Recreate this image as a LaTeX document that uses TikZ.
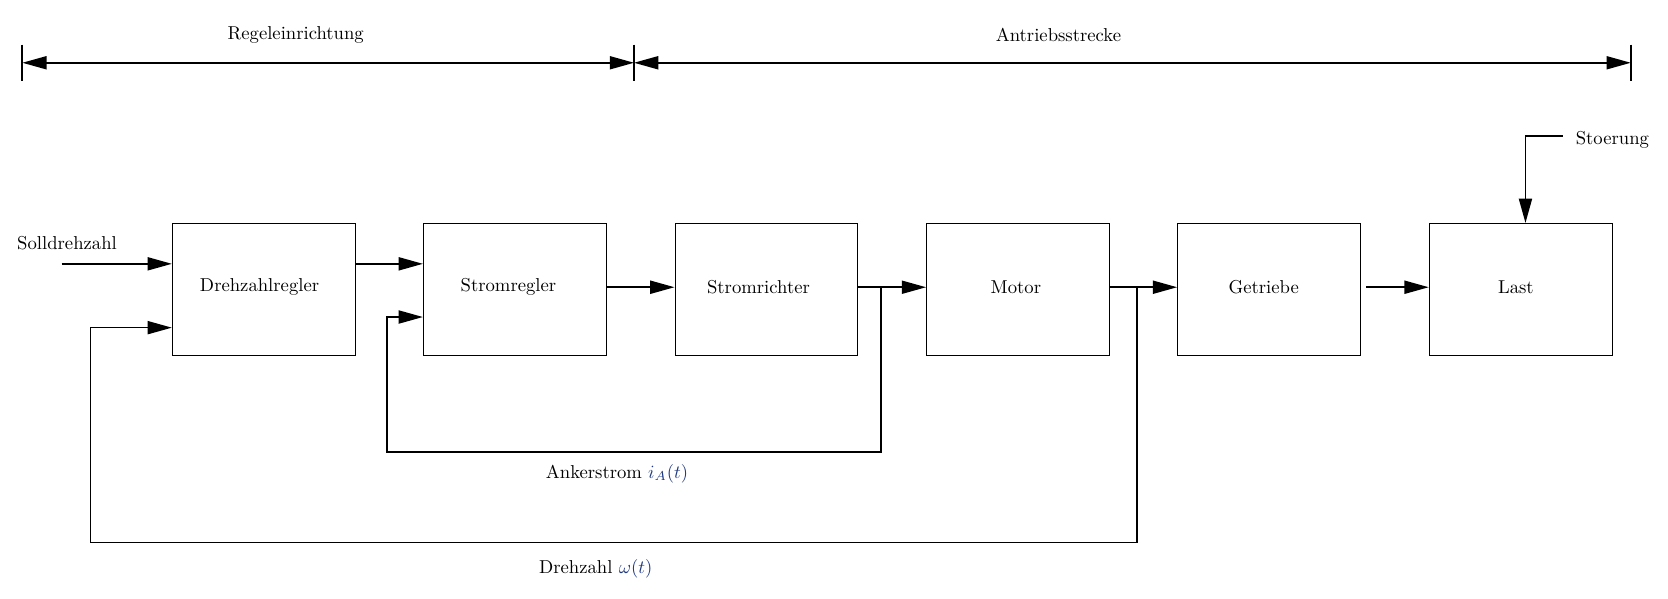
\documentclass[tikz,border=0pt]{standalone}
\usetikzlibrary{arrows.meta}
\definecolor{mathblue}{rgb}{0.12,0.22,0.5}
\begin{document}
\begin{tikzpicture}[x=0.57pt,y=-0.57pt,
  block/.style={draw,line width=0.5pt,minimum width=98.04pt,minimum height=70.68pt,inner sep=0pt},
  flow/.style={line width=0.9pt,-{Triangle[length=13pt,width=7pt]}},
  plain/.style={line width=0.9pt},
  dim/.style={line width=0.9pt,{Triangle[length=13pt,width=7pt]}-{Triangle[length=13pt,width=7pt]}},
  lbl/.style={inner sep=0pt}]
\useasboundingbox (0,0) rectangle (1568,563);
% dimension bars
\coordinate (t1) at (21,42);  \coordinate (u1) at (21,76);
\coordinate (t2) at (596,42); \coordinate (u2) at (596,76);
\coordinate (t3) at (1533,42);\coordinate (u3) at (1533,76);
\coordinate (m1) at (21,59); \coordinate (m2) at (596,59); \coordinate (m3) at (1533,59);
\draw[plain] (t1) -- (u1);
\draw[plain] (t2) -- (u2);
\draw[plain] (t3) -- (u3);
\draw[dim] (m1) -- (m2);
\draw[dim] (m2) -- (m3);
\node[lbl] (regl) at (278,33) {Regeleinrichtung};
\node[lbl] (antl) at (995,33) {Antriebsstrecke};
% blocks
\node[block] (b1) at (248,272) {};
\node[block] (b2) at (484,272) {};
\node[block] (b3) at (720.5,272) {};
\node[block] (b4) at (957,272) {};
\node[block] (b5) at (1193,272) {};
\node[block] (b6) at (1429.5,272) {};
\node[lbl] (l1) at (244,270) {Drehzahlregler};
\node[lbl] (l2) at (478,270) {Stromregler};
\node[lbl] (l3) at (713,270) {Stromrichter};
\node[lbl] (l4) at (955,270) {Motor};
\node[lbl] (l5) at (1188,270) {Getriebe};
\node[lbl] (l6) at (1425,270) {Last};
% input
\node[lbl] (soll) at (63,229) {Solldrehzahl};
\coordinate (s0) at (58,248);
\draw[flow] (s0) -- (b1.west |- s0);
% b1 -> b2
\coordinate (h12) at (0,248);
\draw[flow] (b1.east |- h12) -- (b2.west |- h12);
% chain
\coordinate (hm) at (0,270);
\draw[flow] (b2.east |- hm) -- (b3.west |- hm);
\draw[flow] (b3.east |- hm) -- (b4.west |- hm);
\draw[flow] (b4.east |- hm) -- (b5.west |- hm);
\draw[flow,shorten <=2.7pt] (b5.east |- hm) -- (b6.west |- hm);
% current feedback
\coordinate (j1) at (828,270);
\coordinate (a1) at (364,425);
\coordinate (a2) at (0,298);
\draw[flow] (j1) |- (a1) |- (b2.west |- a2);
\node[lbl] (ank) at (580,445) {Ankerstrom \textcolor{mathblue}{$i_A(t)$}};
% speed feedback
\coordinate (j2) at (1069,270);
\coordinate (d1) at (85,510);
\coordinate (d2) at (0,308);
\draw[flow] (j2) |- (d1) |- (b1.west |- d2);
\node[lbl] (drz) at (560,535) {Drehzahl \textcolor{mathblue}{$\omega(t)$}};
% disturbance
\coordinate (st) at (1469,128);
\coordinate (sc) at (1434,128);
\draw[flow] (st) -- (sc) -- (sc |- b6.north);
\node[lbl,anchor=west] (stl) at (1481,131) {Stoerung};
\end{tikzpicture}
\end{document}
